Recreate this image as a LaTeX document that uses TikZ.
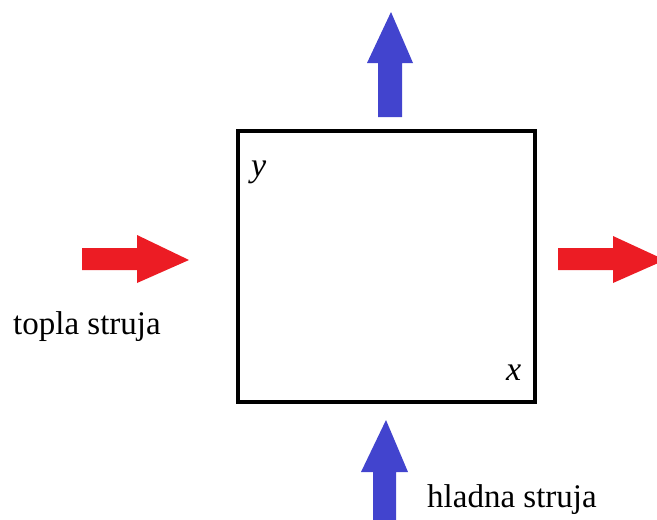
\documentclass[tikz,border=0pt]{standalone}
\usepackage{fontspec}
\setmainfont{Liberation Serif}
\definecolor{flowblue}{RGB}{66,68,206}
\definecolor{flowred}{RGB}{236,28,36}
\begin{document}
\begin{tikzpicture}[x=1pt,y=-1pt,
  lbl/.style={font=\fontsize{33}{38}\selectfont, inner sep=0pt},
  axlbl/.style={font=\fontsize{34}{38}\selectfont\itshape, inner sep=0pt},
  redarrow/.style={fill=flowred, draw=none},
  bluearrow/.style={fill=flowblue, draw=none}]
\useasboundingbox (0,0) rectangle (657,520);
\clip (0,0) rectangle (657,520);
% box
\node[draw, line width=4pt, minimum width=297.5pt, minimum height=271.5pt, inner sep=0pt] (box) at (386.25,266.25) {};
% top blue arrow
\fill[bluearrow] (378,117) -- (378,63) -- (367,63) -- (391,12) -- (413,63) -- (402,63) -- (402,117) -- cycle;
% bottom blue arrow
\fill[bluearrow] (373,522) -- (373,472) -- (361,472) -- (386,420) -- (408,472) -- (396,472) -- (396,522) -- cycle;
% left red arrow
\fill[redarrow] (82,248) -- (137,248) -- (137,235) -- (189,260) -- (137,283) -- (137,270) -- (82,270) -- cycle;
% right red arrow
\fill[redarrow] (558,248) -- (613,248) -- (613,236) -- (665,260) -- (613,283) -- (613,270) -- (558,270) -- cycle;
% labels
\node[axlbl, anchor=base west] (ylab) at (251,176) {y};
\node[axlbl, anchor=base west] (xlab) at (506,380) {x};
\node[lbl, anchor=base west] (hot) at (13,334) {topla struja};
\node[lbl, anchor=base west] (cold) at (427,507) {hladna struja};
\end{tikzpicture}
\end{document}
